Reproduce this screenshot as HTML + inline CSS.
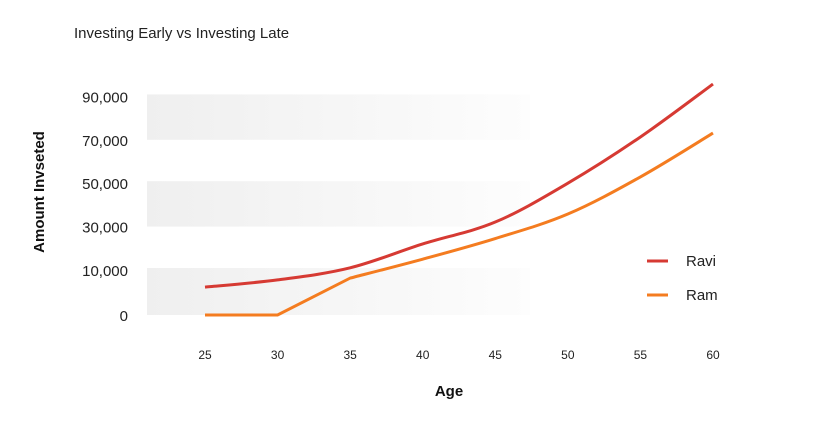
<!DOCTYPE html>
<html><head><meta charset="utf-8"><style>
html,body{margin:0;padding:0;background:#fff;}
svg{display:block;font-family:"Liberation Sans",sans-serif;}
</style></head><body>
<svg width="840" height="435" viewBox="0 0 840 435">
<defs>
<linearGradient id="bandGrad" x1="0" x2="1" y1="0" y2="0">
<stop offset="0" stop-color="#efefef"/><stop offset="1" stop-color="#fdfdfd"/>
</linearGradient>
</defs>
<text x="74" y="38" font-size="15" fill="#222">Investing Early vs Investing Late</text>
<g id="bands"></g>
<g id="yticks"></g>
<g id="xticks"></g>
<text transform="translate(44,192) rotate(-90)" text-anchor="middle" font-size="15" font-weight="bold" fill="#111">Amount Invseted</text>
<text x="449" y="396" text-anchor="middle" font-size="15" font-weight="bold" fill="#111">Age</text>
<g id="lines"></g>
<g>
<line x1="647" x2="668" y1="261" y2="261" stroke="#d63a33" stroke-width="3"/>
<text x="686" y="266" font-size="15" fill="#222">Ravi</text>
<line x1="647" x2="668" y1="295" y2="295" stroke="#f47c20" stroke-width="3"/>
<text x="686" y="300" font-size="15" fill="#222">Ram</text>
</g>
</svg>
<script>
const ages = [25, 30, 35, 40, 45, 50, 55, 60];
const raviValues = [6200, 7800, 11000, 22000, 32100, 50000, 71300, 95700];
const ramValues = [0, 0, 8200, 15000, 24500, 35800, 52900, 73100];
const yTickValues = [0, 10000, 30000, 50000, 70000, 90000];
const yTickLabels = ["0", "10,000", "30,000", "50,000", "70,000", "90,000"];
const xTickLabels = ["25", "30", "35", "40", "45", "50", "55", "60"];
const bandRanges = [[0, 10000], [30000, 50000], [70000, 90000]];

const NS = "http://www.w3.org/2000/svg";
function xScale(a) { return 205 + (a - 25) * (713 - 205) / 35; }
function yScale(v) { return v <= 10000 ? 315 - v / 10000 * 45 : 270 - (v - 10000) / 20000 * 43.4; }
function mk(tag, attrs, parent) { const e = document.createElementNS(NS, tag); for (const k in attrs) e.setAttribute(k, attrs[k]); parent.appendChild(e); return e; }

const bands = document.getElementById("bands");
bandRanges.forEach((r, i) => {
  const y1 = yScale(r[1]), y0 = yScale(r[0]);
  const el = mk("rect", { x: 147, y: y1 - 2, width: 383, height: y0 - y1 + 2, fill: "url(#bandGrad)" }, bands);
  
  
});
const yt = document.getElementById("yticks");
yTickValues.forEach((v, i) => {
  const t = mk("text", { x: 128, y: yScale(v) + 6, "text-anchor": "end", "font-size": 15, fill: "#222" }, yt);
  t.textContent = yTickLabels[i];
  
  
});
const xt = document.getElementById("xticks");
ages.forEach((a, i) => {
  const t = mk("text", { x: xScale(a), y: 359, "text-anchor": "middle", "font-size": 12, fill: "#222" }, xt);
  t.textContent = xTickLabels[i];
  
  
});
function smoothPath(pts, linearUntil) {
  let d = "M" + pts[0][0] + "," + pts[0][1];
  for (let i = 0; i < pts.length - 1; i++) {
    const p1 = pts[i], p2 = pts[i + 1];
    if (i < linearUntil) { d += " L" + p2[0] + "," + p2[1]; continue; }
    const p0 = i > linearUntil ? pts[i - 1] : p1;
    const p3 = pts[i + 2] || p2;
    const c1 = [p1[0] + (p2[0] - p0[0]) / 6, p1[1] + (p2[1] - p0[1]) / 6];
    const c2 = [p2[0] - (p3[0] - p1[0]) / 6, p2[1] - (p3[1] - p1[1]) / 6];
    d += " C" + c1 + " " + c2 + " " + p2;
  }
  return d;
}
const lines = document.getElementById("lines");
const ravi = mk("path", { d: smoothPath(ages.map((a, i) => [xScale(a), yScale(raviValues[i])]), 0), fill: "none", stroke: "#d63a33", "stroke-width": 3 }, lines);


const ram = mk("path", { d: smoothPath(ages.map((a, i) => [xScale(a), yScale(ramValues[i])]), 2), fill: "none", stroke: "#f47c20", "stroke-width": 3 }, lines);


</script>
</body></html>
